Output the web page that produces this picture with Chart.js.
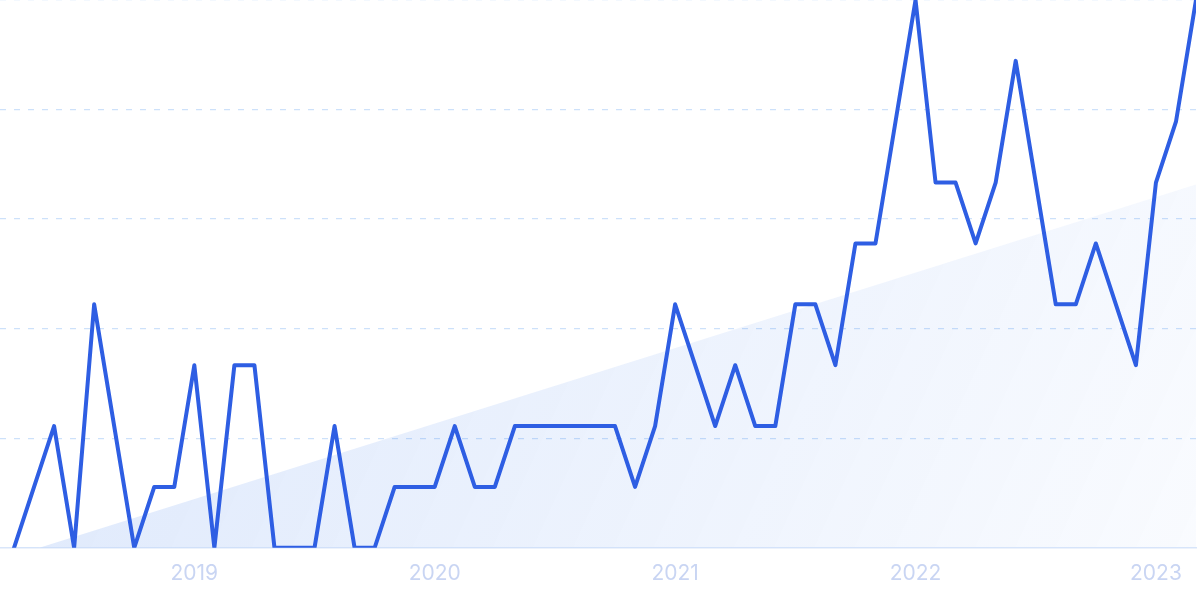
<!DOCTYPE html>
<html>
<head>
<meta charset="utf-8">
<script src="https://cdn.jsdelivr.net/npm/chart.js@4"></script>
<style>
  html, body { margin: 0; padding: 0; background: #ffffff; }
  #wrap { width: 1200px; height: 599px; position: relative; }
</style>
</head>
<body>
<div id="wrap"><canvas id="c"></canvas></div>
<script>
// Monthly categories (Apr 2018 – Mar 2023)
const months = [
  'Apr 2018','May 2018','Jun 2018','Jul 2018','Aug 2018','Sep 2018','Oct 2018','Nov 2018','Dec 2018',
  'Jan 2019','Feb 2019','Mar 2019','Apr 2019','May 2019','Jun 2019','Jul 2019','Aug 2019','Sep 2019','Oct 2019','Nov 2019','Dec 2019',
  'Jan 2020','Feb 2020','Mar 2020','Apr 2020','May 2020','Jun 2020','Jul 2020','Aug 2020','Sep 2020','Oct 2020','Nov 2020','Dec 2020',
  'Jan 2021','Feb 2021','Mar 2021','Apr 2021','May 2021','Jun 2021','Jul 2021','Aug 2021','Sep 2021','Oct 2021','Nov 2021','Dec 2021',
  'Jan 2022','Feb 2022','Mar 2022','Apr 2022','May 2022','Jun 2022','Jul 2022','Aug 2022','Sep 2022','Oct 2022','Nov 2022','Dec 2022',
  'Jan 2023','Feb 2023','Mar 2023'
];
// Series values
const values = [
  0, 1, 2, 0, 4, 2, 0, 1, 1,
  3, 0, 3, 3, 0, 0, 0, 2, 0, 0, 1, 1,
  1, 2, 1, 1, 2, 2, 2, 2, 2, 2, 1, 2,
  4, 3, 2, 3, 2, 2, 4, 4, 3, 5, 5, 7,
  9, 6, 6, 5, 6, 8, 6, 4, 4, 5, 4, 3,
  6, 7, 9
];
// Trend line (start/end)
const trendIndex = [0, 59];
const trendValues = [-0.13, 5.97];
// Tick labels
const yearTickIndex = [9, 21, 33, 45, 57];
const yearTickLabels = ['2019', '2020', '2021', '2022', '2023'];

const lineData = values.map((v, i) => ({ x: i, y: v }));
const trendData = trendIndex.map((x, i) => ({ x: x, y: trendValues[i] }));

function trendFill(ctx) {
  const chart = ctx.chart;
  const a = chart.chartArea;
  if (!a) return 'rgba(40,110,235,0.1)';
  const g = chart.ctx.createLinearGradient(a.left, a.top, a.right, a.bottom);
  g.addColorStop(0, 'rgba(40,110,235,0.17)');
  g.addColorStop(1, 'rgba(40,110,235,0.027)');
  return g;
}

new Chart(document.getElementById('c'), {
  type: 'line',
  data: {
    datasets: [
      {
        label: 'Searches',
        data: lineData,
        borderColor: '#2e5ee3',
        borderWidth: 4,
        borderJoinStyle: 'round',
        borderCapStyle: 'round',
        pointRadius: 0,
        tension: 0,
        fill: false
      },
      {
        label: 'Trend',
        data: trendData,
        borderWidth: 0,
        borderColor: 'rgba(0,0,0,0)',
        backgroundColor: trendFill,
        pointRadius: 0,
        fill: 'origin'
      }
    ]
  },
  options: {
    responsive: true,
    maintainAspectRatio: false,
    animation: false,
    layout: { padding: { left: 0, right: 4, top: 0, bottom: 0 } },
    plugins: { legend: { display: false }, tooltip: { enabled: false } },
    scales: {
      x: {
        type: 'linear',
        min: -0.7,
        max: 59,
        grid: { display: false, drawTicks: false },
        border: { display: true, color: '#d9e6fa', width: 1.5 },
        afterBuildTicks: (axis) => { axis.ticks = yearTickIndex.map(v => ({ value: v })); },
        ticks: {
          autoSkip: false,
          maxRotation: 0,
          padding: 13,
          color: '#c9d5f3',
          font: { family: 'Inter', size: 21 },
          callback: (v) => { const k = yearTickIndex.indexOf(v); return k >= 0 ? yearTickLabels[k] : ''; }
        }
      },
      y: {
        min: 0,
        max: 9,
        ticks: { display: false, stepSize: 1.8 },
        border: { display: false, dash: [6, 8] },
        grid: {
          drawTicks: false,
          color: (c) => c.tick && c.tick.value === 0 ? 'rgba(0,0,0,0)' : '#cde1fa',
          lineWidth: 1.3
        }
      }
    }
  }
});
</script>
</body>
</html>
